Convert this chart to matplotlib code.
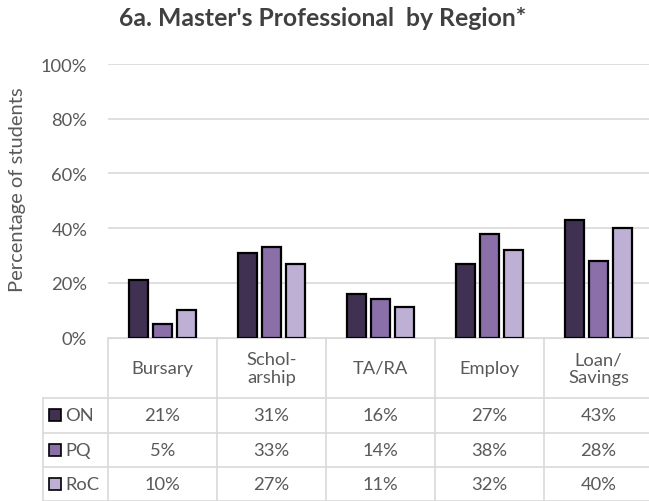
import matplotlib.pyplot as plt
import matplotlib.patches as mpatches
from matplotlib import transforms
import numpy as np

plt.rcParams['font.family'] = ['Lato', 'DejaVu Sans']

# data
categories = ['Bursary', 'Schol-\narship', 'TA/RA', 'Employ', 'Loan/\nSavings']
series = ['ON', 'PQ', 'RoC']
on_vals = [21, 31, 16, 27, 43]
pq_vals = [5, 33, 14, 38, 28]
roc_vals = [10, 27, 11, 32, 40]
colors = ['#403152', '#8B6FA8', '#BEB0D4']

W, H = 649, 502
grey = '#595959'
grid = '#D9D9D9'
fs = 13.2

def fy(py):
    # pixel from top -> figure fraction
    return 1 - py / H

fig = plt.figure(figsize=(W / 100, H / 100), dpi=100)
ax = fig.add_axes([108 / W, fy(338.5), 545 / W, 273.5 / H])

x = np.arange(len(categories))
for k, vals in enumerate([on_vals, pq_vals, roc_vals]):
    ax.bar(x + (k - 1) * 0.22, vals, width=0.18, color=colors[k],
           edgecolor='black', linewidth=1.6, zorder=3)

ax.set_xlim(-0.5, len(categories) - 0.5)
ax.set_ylim(0, 100)
ax.set_yticks(range(0, 101, 20))
ax.set_yticklabels([f'{v}%' for v in range(0, 101, 20)], color=grey, fontsize=fs)
ax.tick_params(axis='y', length=0, pad=15)
ax.set_xticks([])
ax.grid(axis='y', color=grid, linewidth=1.2, zorder=0)
for s in ['top', 'right', 'left']:
    ax.spines[s].set_visible(False)
ax.spines['bottom'].set_color(grid)

fig.text(18 / W, fy(190), 'Percentage of students', rotation=90,
         ha='center', va='center', color=grey, fontsize=14.5)
fig.text(323 / W, fy(19), "6a. Master's Professional  by Region*",
         ha='center', va='center', color='#404040', fontsize=17.8, fontweight='bold')

# data table under the chart
tr = transforms.blended_transform_factory(ax.transData, fig.transFigure)
left = -0.5 - 65 / 109
right = len(categories) - 0.5
rows = [399, 433.5, 468, 502]
for b in np.arange(-0.5, len(categories), 1.0):
    ax.plot([b, b], [fy(338.5), fy(502)], color=grid, lw=1.2, transform=tr, clip_on=False)
ax.plot([left, left], [fy(399), fy(502)], color=grid, lw=1.2, transform=tr, clip_on=False)
for r in rows:
    ax.plot([left, right], [fy(r), fy(r)], color=grid, lw=1.2, transform=tr, clip_on=False)

for i, c in enumerate(categories):
    ax.text(i, fy(369), c, ha='center', va='center', color=grey, fontsize=fs,
            transform=tr, linespacing=1.1)

row_mid = [416, 451, 485]
for k, vals in enumerate([on_vals, pq_vals, roc_vals]):
    for i, v in enumerate(vals):
        ax.text(i, fy(row_mid[k]), f'{v}%', ha='center', va='center',
                color=grey, fontsize=fs, transform=tr)
    fig.patches.append(mpatches.Rectangle((49 / W, fy(row_mid[k] + 6)), 12 / W, 12 / H,
                                          facecolor=colors[k], edgecolor='black',
                                          linewidth=1.2, transform=fig.transFigure))
    fig.text(65 / W, fy(row_mid[k]), series[k], ha='left', va='center',
             color=grey, fontsize=fs)

fig.savefig('out.png', dpi=100)
